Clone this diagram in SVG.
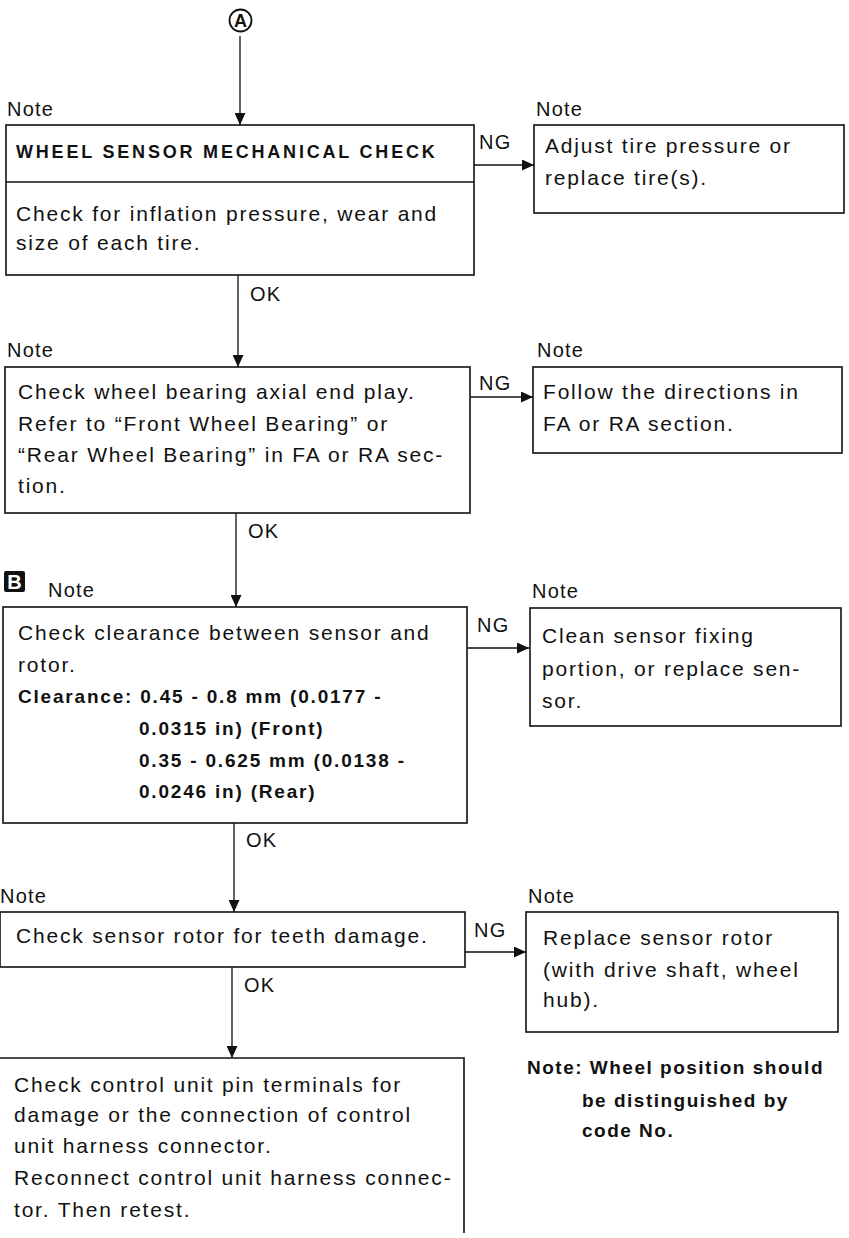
<svg xmlns="http://www.w3.org/2000/svg" width="849" height="1238" viewBox="0 0 849 1238">
<style>
.t{font-family:"Liberation Sans",Arial,sans-serif;font-size:21px;letter-spacing:1.8px;fill:#111}
.n{font-family:"Liberation Sans",Arial,sans-serif;font-size:20px;letter-spacing:1.2px;fill:#111}
.b{font-family:"Liberation Sans",Arial,sans-serif;font-weight:bold;font-size:19px;letter-spacing:1.8px;fill:#111}
.bn{font-family:"Liberation Sans",Arial,sans-serif;font-weight:bold;font-size:19px;letter-spacing:1.5px;fill:#111}
.h{font-family:"Liberation Sans",Arial,sans-serif;font-weight:bold;font-size:18px;letter-spacing:2.8px;fill:#111}
.box{fill:none;stroke:#111;stroke-width:1.6}
.c{stroke:#111;stroke-width:1.3;fill:none}
</style>
<defs>
<marker id="ah" markerUnits="userSpaceOnUse" markerWidth="12" markerHeight="11" refX="12" refY="5.5" orient="auto">
<path d="M0,0 L12,5.5 L0,11 z" fill="#111"/>
</marker>
</defs>
<rect width="849" height="1238" fill="#fff"/>

<g id="start-A">
<circle cx="240.5" cy="20.5" r="11" fill="none" stroke="#111" stroke-width="1.8"/>
<text x="240.5" y="27" text-anchor="middle" style="font-family:'Liberation Sans',Arial,sans-serif;font-weight:bold;font-size:18px;fill:#111">A</text>
</g>

<g id="connectors">
<line class="c" x1="240" y1="36" x2="240" y2="125" marker-end="url(#ah)"/>
<line class="c" x1="474" y1="165" x2="534" y2="165" marker-end="url(#ah)"/>
<line class="c" x1="238" y1="275" x2="238" y2="367" marker-end="url(#ah)"/>
<line class="c" x1="470" y1="397" x2="533" y2="397" marker-end="url(#ah)"/>
<line class="c" x1="236" y1="513" x2="236" y2="607" marker-end="url(#ah)"/>
<line class="c" x1="467" y1="648" x2="529" y2="648" marker-end="url(#ah)"/>
<line class="c" x1="234" y1="823" x2="234" y2="912" marker-end="url(#ah)"/>
<line class="c" x1="465" y1="952" x2="526" y2="952" marker-end="url(#ah)"/>
<line class="c" x1="232" y1="967" x2="232" y2="1058" marker-end="url(#ah)"/>
<text class="n" x="250" y="301">OK</text>
<text class="n" x="248" y="538">OK</text>
<text class="n" x="246" y="847">OK</text>
<text class="n" x="244" y="992">OK</text>
<text class="n" x="479" y="149">NG</text>
<text class="n" x="479" y="390">NG</text>
<text class="n" x="477" y="632">NG</text>
<text class="n" x="474" y="937">NG</text>
</g>

<g id="box1">
<text class="n" x="7" y="116">Note</text>
<rect class="box" x="6" y="125" width="468" height="150"/>
<line class="box" x1="6" y1="182" x2="474" y2="182"/>
<text class="h" x="16" y="158">WHEEL SENSOR MECHANICAL CHECK</text>
<text class="t" x="16" y="221">Check for inflation pressure, wear and</text>
<text class="t" x="16" y="250">size of each tire.</text>
</g>

<g id="box1-ng">
<text class="n" x="536" y="116">Note</text>
<rect class="box" x="534" y="125" width="310" height="88"/>
<text class="t" x="545" y="153">Adjust tire pressure or</text>
<text class="t" x="545" y="185">replace tire(s).</text>
</g>

<g id="box2">
<text class="n" x="7" y="357">Note</text>
<rect class="box" x="5" y="367" width="465" height="146"/>
<text class="t" x="18" y="399">Check wheel bearing axial end play.</text>
<text class="t" x="18" y="431">Refer to “Front Wheel Bearing” or</text>
<text class="t" x="18" y="462">“Rear Wheel Bearing” in FA or RA sec-</text>
<text class="t" x="18" y="493">tion.</text>
</g>

<g id="box2-ng">
<text class="n" x="537" y="357">Note</text>
<rect class="box" x="533" y="367" width="309" height="86"/>
<text class="t" x="543" y="399">Follow the directions in</text>
<text class="t" x="543" y="431">FA or RA section.</text>
</g>

<g id="box3">
<rect x="4" y="571" width="21" height="21" rx="2" fill="#111"/>
<text x="14.5" y="589" text-anchor="middle" style="font-family:'Liberation Sans',Arial,sans-serif;font-weight:bold;font-size:20px;fill:#fff">B</text>
<text class="n" x="48" y="597">Note</text>
<rect class="box" x="3" y="607" width="464" height="216"/>
<text class="t" x="18" y="640">Check clearance between sensor and</text>
<text class="t" x="18" y="672">rotor.</text>
<text class="b" x="18" y="703">Clearance: 0.45 - 0.8 mm (0.0177 -</text>
<text class="b" x="139" y="735">0.0315 in) (Front)</text>
<text class="b" x="139" y="767">0.35 - 0.625 mm (0.0138 -</text>
<text class="b" x="139" y="798">0.0246 in) (Rear)</text>
</g>

<g id="box3-ng">
<text class="n" x="532" y="598">Note</text>
<rect class="box" x="530" y="608" width="311" height="118"/>
<text class="t" x="542" y="643">Clean sensor fixing</text>
<text class="t" x="542" y="676">portion, or replace sen-</text>
<text class="t" x="542" y="708">sor.</text>
</g>

<g id="box4">
<text class="n" x="0" y="903">Note</text>
<rect class="box" x="0" y="912" width="465" height="55"/>
<text class="t" x="16" y="943">Check sensor rotor for teeth damage.</text>
</g>

<g id="box4-ng">
<text class="n" x="528" y="903">Note</text>
<rect class="box" x="526" y="912" width="312" height="120"/>
<text class="t" x="543" y="945">Replace sensor rotor</text>
<text class="t" x="543" y="977">(with drive shaft, wheel</text>
<text class="t" x="543" y="1007">hub).</text>
</g>

<g id="box5">
<path class="box" d="M0,1058 H464 V1233"/>
<text class="t" x="14" y="1092">Check control unit pin terminals for</text>
<text class="t" x="14" y="1122">damage or the connection of control</text>
<text class="t" x="14" y="1153">unit harness connector.</text>
<text class="t" x="14" y="1185">Reconnect control unit harness connec-</text>
<text class="t" x="14" y="1217">tor. Then retest.</text>
</g>

<g id="note">
<text class="bn" x="527" y="1074">Note: Wheel position should</text>
<text class="bn" x="582" y="1107">be distinguished by</text>
<text class="bn" x="582" y="1137">code No.</text>
</g>
</svg>
